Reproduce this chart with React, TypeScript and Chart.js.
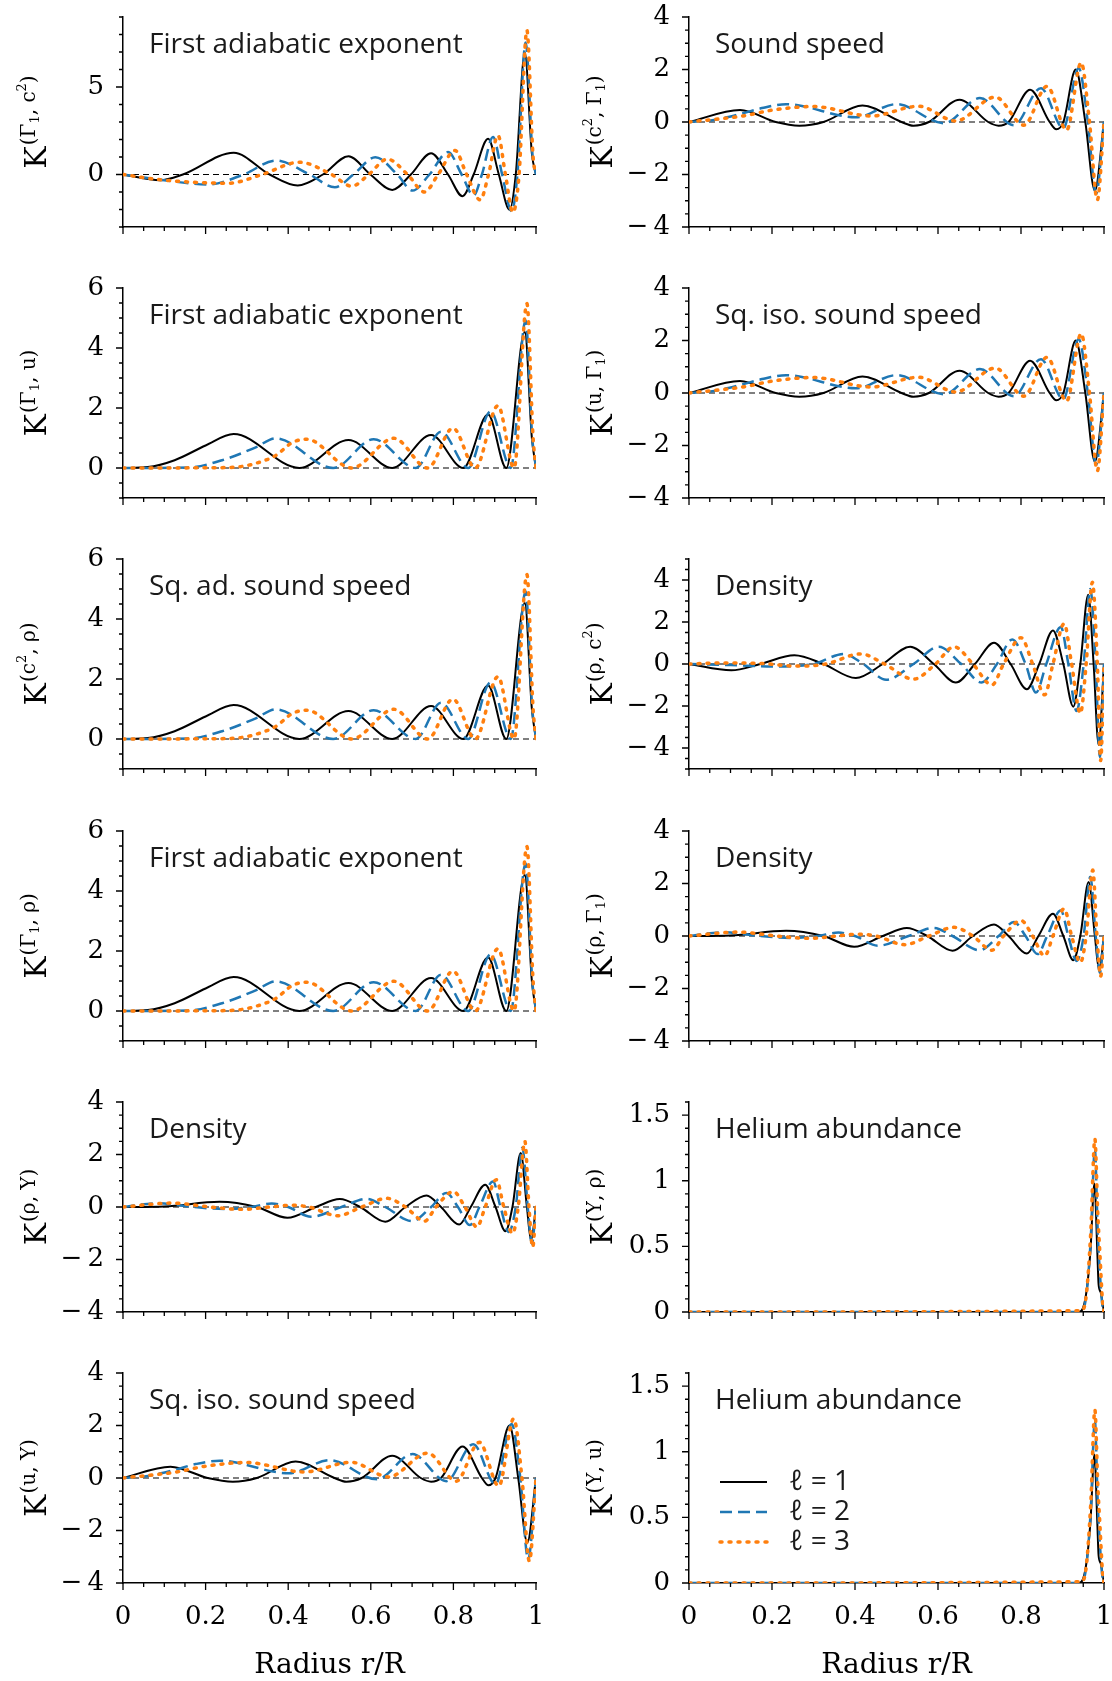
import React, { useEffect, useRef } from "react";
import { Chart, registerables } from "chart.js";

Chart.register(...registerables);

type Pt = [number, number];

// ---------------- data (r/R, K) ----------------
// K^(Γ1, c²)
const GC2_L1: Pt[] = [[0,0],[0.09,-0.33],[0.145,0],[0.268,1.24],[0.355,0],[0.423,-0.63],[0.484,0],[0.546,1.05],[0.599,0],[0.652,-0.88],[0.697,0],[0.746,1.22],[0.787,0],[0.822,-1.24],[0.849,0],[0.884,2.04],[0.91,0],[0.936,-2.02],[0.951,0],[0.973,6.95],[0.99,1.2],[1,0]];
const GC2_L2: Pt[] = [[0,0],[0.09,-0.3],[0.206,-0.57],[0.292,0],[0.37,0.8],[0.452,0],[0.513,-0.73],[0.558,0],[0.611,0.99],[0.664,0],[0.701,-0.92],[0.742,0],[0.787,1.28],[0.82,0],[0.849,-1.2],[0.869,0],[0.896,2.14],[0.918,0],[0.941,-2.1],[0.955,0],[0.975,7.55],[0.992,1.0],[1,0]];
const GC2_L3: Pt[] = [[0,0],[0.09,-0.3],[0.255,-0.5],[0.337,0],[0.427,0.7],[0.505,0],[0.554,-0.67],[0.595,0],[0.64,0.88],[0.689,0],[0.73,-1.0],[0.763,0],[0.804,1.37],[0.832,0],[0.865,-1.45],[0.885,0],[0.908,2.23],[0.926,0],[0.944,-2.16],[0.959,0],[0.978,8.24],[0.993,1.0],[1,0]];

// K^(Γ1, u), K^(c², ρ), K^(Γ1, ρ)
const GU_L1: Pt[] = [[0,0],[0.06,0.03],[0.125,0.26],[0.2,0.75],[0.268,1.13],[0.427,0],[0.546,0.93],[0.652,0],[0.746,1.1],[0.824,0],[0.884,1.78],[0.928,0],[0.973,4.53],[0.99,1.0],[1,0]];
const GU_L2: Pt[] = [[0,0],[0.16,0.02],[0.24,0.26],[0.32,0.68],[0.37,0.99],[0.509,0],[0.607,0.96],[0.709,0],[0.77,1.21],[0.836,0],[0.89,1.89],[0.939,0],[0.975,4.92],[0.991,1.0],[1,0]];
const GU_L3: Pt[] = [[0,0],[0.22,0.01],[0.28,0.04],[0.32,0.15],[0.37,0.42],[0.41,0.85],[0.445,0.96],[0.554,0],[0.656,0.99],[0.738,0],[0.799,1.33],[0.853,0],[0.908,2.08],[0.947,0],[0.978,5.48],[0.993,1.0],[1,0]];

// K^(c², Γ1), K^(u, Γ1)
const C2G_L1: Pt[] = [[0,0],[0.123,0.46],[0.209,0],[0.266,-0.14],[0.324,0],[0.418,0.63],[0.512,0],[0.541,-0.14],[0.578,0],[0.652,0.85],[0.721,0],[0.746,-0.14],[0.77,0],[0.822,1.23],[0.869,0],[0.885,-0.28],[0.902,0],[0.932,2.0],[0.955,0],[0.978,-2.62],[1,0]];
const C2G_L2: Pt[] = [[0,0],[0.06,0.08],[0.123,0.3],[0.176,0.53],[0.234,0.68],[0.402,0.18],[0.5,0.68],[0.615,-0.05],[0.701,0.91],[0.783,-0.12],[0.848,1.29],[0.902,-0.24],[0.939,2.06],[0.961,0],[0.981,-2.74],[1,0]];
const C2G_L3: Pt[] = [[0,0],[0.13,0.23],[0.2,0.45],[0.299,0.59],[0.439,0.23],[0.553,0.6],[0.643,0.04],[0.738,0.95],[0.807,-0.12],[0.863,1.36],[0.91,-0.31],[0.945,2.26],[0.965,0],[0.984,-2.97],[1,0]];

// K^(u, Y)
const UY_L1: Pt[] = [[0,0],[0.115,0.43],[0.205,0],[0.266,-0.14],[0.324,0],[0.418,0.63],[0.512,0],[0.541,-0.14],[0.578,0],[0.652,0.85],[0.721,0],[0.746,-0.14],[0.77,0],[0.822,1.2],[0.869,0],[0.885,-0.28],[0.902,0],[0.936,2.0],[0.957,0],[0.979,-2.46],[1,0]];
const UY_L2: Pt[] = [[0,0],[0.06,0.08],[0.123,0.3],[0.176,0.53],[0.234,0.66],[0.402,0.18],[0.5,0.68],[0.615,-0.05],[0.701,0.91],[0.783,-0.12],[0.848,1.29],[0.902,-0.24],[0.941,2.06],[0.962,0],[0.981,-3.1],[1,0]];
const UY_L3: Pt[] = [[0,0],[0.13,0.23],[0.2,0.45],[0.299,0.59],[0.439,0.23],[0.553,0.6],[0.643,0.04],[0.738,0.95],[0.807,-0.12],[0.863,1.36],[0.91,-0.31],[0.946,2.26],[0.966,0],[0.984,-3.17],[1,0]];

// K^(ρ, c²)
const RC2_L1: Pt[] = [[0,0],[0.102,-0.3],[0.172,0],[0.254,0.42],[0.324,0],[0.402,-0.67],[0.467,0],[0.533,0.82],[0.59,0],[0.643,-0.88],[0.689,0],[0.735,1.01],[0.775,0],[0.814,-1.2],[0.844,0],[0.877,1.6],[0.902,0],[0.926,-2.03],[0.943,0],[0.962,3.3],[0.975,0],[0.987,-3.85],[1,0]];
const RC2_L2: Pt[] = [[0,0],[0.1,-0.05],[0.2,-0.12],[0.3,0],[0.373,0.48],[0.42,0],[0.475,-0.75],[0.541,0],[0.602,0.82],[0.656,0],[0.705,-0.88],[0.742,0],[0.779,1.17],[0.811,0],[0.836,-1.36],[0.861,0],[0.896,1.76],[0.914,0],[0.934,-2.24],[0.951,0],[0.967,3.57],[0.98,0],[0.99,-4.43],[1,0]];
const RC2_L3: Pt[] = [[0,0],[0.08,0.05],[0.17,0.03],[0.26,-0.1],[0.33,0],[0.414,0.48],[0.471,0],[0.541,-0.72],[0.594,0],[0.639,0.82],[0.684,0],[0.73,-1.0],[0.758,0],[0.8,1.25],[0.828,0],[0.857,-1.47],[0.877,0],[0.904,1.92],[0.922,0],[0.943,-2.35],[0.957,0],[0.972,3.89],[0.984,0],[0.992,-4.6],[1,0]];

// K^(ρ, Γ1), K^(ρ, Y)
const RG_L1: Pt[] = [[0,0],[0.1,0.02],[0.234,0.2],[0.324,0],[0.398,-0.41],[0.467,0],[0.525,0.3],[0.574,0],[0.635,-0.56],[0.684,0],[0.735,0.44],[0.77,0],[0.814,-0.67],[0.842,0],[0.877,0.85],[0.902,0],[0.926,-0.92],[0.943,0],[0.963,2.06],[0.978,0],[0.988,-1.27],[1,0]];
const RG_L2: Pt[] = [[0,0],[0.08,0.14],[0.17,0],[0.25,-0.08],[0.31,0],[0.36,0.13],[0.4,0],[0.455,-0.37],[0.529,0],[0.59,0.31],[0.635,0],[0.7,-0.54],[0.746,0],[0.783,0.53],[0.811,0],[0.84,-0.69],[0.863,0],[0.896,0.97],[0.914,0],[0.934,-0.95],[0.951,0],[0.967,2.26],[0.98,0],[0.99,-1.4],[1,0]];
const RG_L3: Pt[] = [[0,0],[0.12,0.15],[0.21,0],[0.29,-0.09],[0.355,0],[0.41,0.07],[0.45,0],[0.52,-0.33],[0.578,0],[0.639,0.33],[0.684,0],[0.73,-0.54],[0.758,0],[0.8,0.59],[0.828,0],[0.857,-0.76],[0.877,0],[0.904,1.04],[0.922,0],[0.943,-1.01],[0.957,0],[0.973,2.51],[0.983,0],[0.992,-1.53],[1,0]];

// K^(Y, ρ), K^(Y, u)
const YR_L1: Pt[] = [[0,0],[0.94,0],[0.955,0.1],[0.967,0.45],[0.977,0.98],[0.984,0.45],[0.987,0.21],[0.992,0.15],[1,0]];
const YR_L2: Pt[] = [[0,0],[0.945,0],[0.957,0.12],[0.968,0.55],[0.978,1.24],[0.985,0.6],[0.99,0.3],[0.996,0.05],[1,0]];
const YR_L3: Pt[] = [[0,0],[0.945,0.01],[0.957,0.12],[0.968,0.6],[0.978,1.32],[0.985,0.75],[0.99,0.45],[0.996,0.1],[1,0]];

// tick labels
const X_TICKS = [0, 0.2, 0.4, 0.6, 0.8, 1];
const Y_TICKS_GC2 = [0, 5];
const Y_TICKS_POS = [0, 2, 4, 6];
const Y_TICKS_SYM = [-4, -2, 0, 2, 4];
const Y_TICKS_HE = [0, 0.5, 1, 1.5];
const LEGEND_LABELS = ["ℓ = 1", "ℓ = 2", "ℓ = 3"];

// ---------------- styles / layout ----------------
const SERIF = '"DejaVu Serif", serif';
const SANS = '"Open Sans", "Noto Sans", sans-serif';
const LINE_STYLES = [
  { color: "#000000", width: 2, dash: [] as number[], cap: "butt" as CanvasLineCap },
  { color: "#1f77b4", width: 2.5, dash: [12, 6], cap: "butt" as CanvasLineCap },
  { color: "#ff7f0e", width: 3.5, dash: [2, 7], cap: "round" as CanvasLineCap },
];
const ROW_TOPS = [0, 271, 542, 814, 1085, 1356];
const COL_W = 556;
const PLOT_TOP = 17;
const PLOT_H = 210;

type Cfg = {
  row: number; col: number; title: string; ylab: string;
  ymin: number; ymax: number; minor: number; yticks: number[];
  series: Pt[][]; zero: boolean; legend?: boolean;
};

const PANELS: Cfg[] = [
  { row: 0, col: 0, title: "First adiabatic exponent", ylab: "(Γ_1, c^2)", ymin: -3, ymax: 9, minor: 1, yticks: Y_TICKS_GC2, series: [GC2_L1, GC2_L2, GC2_L3], zero: true },
  { row: 0, col: 1, title: "Sound speed", ylab: "(c^2, Γ_1)", ymin: -4, ymax: 4, minor: 0.5, yticks: Y_TICKS_SYM, series: [C2G_L1, C2G_L2, C2G_L3], zero: true },
  { row: 1, col: 0, title: "First adiabatic exponent", ylab: "(Γ_1, u)", ymin: -1, ymax: 6, minor: 0.5, yticks: Y_TICKS_POS, series: [GU_L1, GU_L2, GU_L3], zero: true },
  { row: 1, col: 1, title: "Sq. iso. sound speed", ylab: "(u, Γ_1)", ymin: -4, ymax: 4, minor: 0.5, yticks: Y_TICKS_SYM, series: [C2G_L1, C2G_L2, C2G_L3], zero: true },
  { row: 2, col: 0, title: "Sq. ad. sound speed", ylab: "(c^2, ρ)", ymin: -1, ymax: 6, minor: 0.5, yticks: Y_TICKS_POS, series: [GU_L1, GU_L2, GU_L3], zero: true },
  { row: 2, col: 1, title: "Density", ylab: "(ρ, c^2)", ymin: -5, ymax: 5, minor: 0.5, yticks: Y_TICKS_SYM, series: [RC2_L1, RC2_L2, RC2_L3], zero: true },
  { row: 3, col: 0, title: "First adiabatic exponent", ylab: "(Γ_1, ρ)", ymin: -1, ymax: 6, minor: 0.5, yticks: Y_TICKS_POS, series: [GU_L1, GU_L2, GU_L3], zero: true },
  { row: 3, col: 1, title: "Density", ylab: "(ρ, Γ_1)", ymin: -4, ymax: 4, minor: 0.5, yticks: Y_TICKS_SYM, series: [RG_L1, RG_L2, RG_L3], zero: true },
  { row: 4, col: 0, title: "Density", ylab: "(ρ, Y)", ymin: -4, ymax: 4, minor: 0.5, yticks: Y_TICKS_SYM, series: [RG_L1, RG_L2, RG_L3], zero: true },
  { row: 4, col: 1, title: "Helium abundance", ylab: "(Y, ρ)", ymin: 0, ymax: 1.6, minor: 0.1, yticks: Y_TICKS_HE, series: [YR_L1, YR_L2, YR_L3], zero: false },
  { row: 5, col: 0, title: "Sq. iso. sound speed", ylab: "(u, Y)", ymin: -4, ymax: 4, minor: 0.5, yticks: Y_TICKS_SYM, series: [UY_L1, UY_L2, UY_L3], zero: true },
  { row: 5, col: 1, title: "Helium abundance", ylab: "(Y, u)", ymin: 0, ymax: 1.6, minor: 0.1, yticks: Y_TICKS_HE, series: [YR_L1, YR_L2, YR_L3], zero: false, legend: true },
];

type Seg = { t: string; size: number; rise: number; w?: number };
function parseLabel(s: string): Seg[] {
  const out: Seg[] = [];
  for (let i = 0; i < s.length; i++) {
    const ch = s[i];
    if (ch === "_" && i + 1 < s.length) { out.push({ t: s[i + 1], size: 13, rise: 7 }); i++; }
    else if (ch === "^" && i + 1 < s.length) { out.push({ t: s[i + 1], size: 13, rise: 20 }); i++; }
    else out.push({ t: ch, size: 20, rise: 11 });
  }
  return out;
}

function drawYLabel(ctx: CanvasRenderingContext2D, spec: string, bx: number, cy: number) {
  const segs = parseLabel(spec);
  ctx.save();
  ctx.translate(bx, cy);
  ctx.rotate(-Math.PI / 2);
  ctx.fillStyle = "#000";
  ctx.textAlign = "left";
  ctx.textBaseline = "alphabetic";
  ctx.font = `30px ${SERIF}`;
  const kw = ctx.measureText("K").width;
  let total = kw + 1;
  segs.forEach((sg) => { ctx.font = `${sg.size}px ${SERIF}`; sg.w = ctx.measureText(sg.t).width; total += sg.w; });
  let x = -total / 2;
  ctx.font = `30px ${SERIF}`;
  ctx.fillText("K", x, 0);
  x += kw + 1;
  segs.forEach((sg) => { ctx.font = `${sg.size}px ${SERIF}`; ctx.fillText(sg.t, x, -sg.rise); x += sg.w || 0; });
  ctx.restore();
}

function makePlugin(cfg: Cfg) {
  return {
    id: "panelDeco",
    beforeDatasetsDraw(chart: any) {
      if (!cfg.zero) return;
      const { ctx, chartArea: a } = chart;
      const py = chart.scales.y.getPixelForValue(0);
      ctx.save();
      ctx.beginPath();
      ctx.setLineDash([6, 4]);
      ctx.lineWidth = 1.2;
      ctx.strokeStyle = "#000";
      ctx.moveTo(a.left, py);
      ctx.lineTo(a.right, py);
      ctx.stroke();
      ctx.restore();
    },
    afterDraw(chart: any) {
      const { ctx, chartArea: a } = chart;
      const xs = chart.scales.x;
      const ys = chart.scales.y;
      ctx.save();
      ctx.strokeStyle = "#000";
      ctx.lineWidth = 1.3;
      ctx.setLineDash([]);
      ctx.beginPath();
      for (let i = 0; i <= 20; i++) {
        const v = i * 0.05;
        const px = xs.getPixelForValue(v);
        const len = i % 4 === 0 ? 7 : 4;
        ctx.moveTo(px, a.bottom);
        ctx.lineTo(px, a.bottom + len);
      }
      const i0 = Math.ceil(cfg.ymin / cfg.minor - 1e-9);
      const i1 = Math.floor(cfg.ymax / cfg.minor + 1e-9);
      for (let i = i0; i <= i1; i++) {
        const v = i * cfg.minor;
        const major = cfg.yticks.some((t) => Math.abs(t - v) < 1e-6);
        const py = ys.getPixelForValue(v);
        ctx.moveTo(a.left, py);
        ctx.lineTo(a.left - (major ? 7 : 4), py);
      }
      ctx.stroke();
      ctx.restore();

      // panel annotation
      ctx.save();
      ctx.fillStyle = "#1a1a1a";
      ctx.font = `28px ${SANS}`;
      ctx.textAlign = "left";
      ctx.textBaseline = "middle";
      ctx.fillText(cfg.title, a.left + 26, a.top + 28.5);
      ctx.restore();

      // y label
      drawYLabel(ctx, cfg.ylab, a.left - 77, (a.top + a.bottom) / 2);

      if (cfg.legend) {
        ctx.save();
        LEGEND_LABELS.forEach((lab, i) => {
          const st = LINE_STYLES[i];
          const y = a.top + 109 + i * 30;
          ctx.beginPath();
          ctx.strokeStyle = st.color;
          ctx.lineWidth = st.width;
          ctx.setLineDash(st.dash);
          ctx.lineCap = st.cap;
          ctx.moveTo(a.left + 31, y);
          ctx.lineTo(a.left + 78, y);
          ctx.stroke();
          ctx.setLineDash([]);
          ctx.fillStyle = "#1a1a1a";
          ctx.font = `28px ${SANS}`;
          ctx.textAlign = "left";
          ctx.textBaseline = "middle";
          ctx.fillText(lab, a.left + 100, y);
        });
        ctx.restore();
      }
    },
  };
}

function fmtY(v: number): string {
  if (v < 0) return "\u2212\u2009" + String(Math.abs(v));
  return String(v);
}

function Panel({ cfg }: { cfg: Cfg }) {
  const ref = useRef<HTMLCanvasElement | null>(null);
  const top = ROW_TOPS[cfg.row];
  const height = cfg.row === 5 ? 1681 - top : ROW_TOPS[cfg.row + 1] - top;
  const plotLeft = cfg.col === 0 ? 123 : 133;
  const padRight = cfg.col === 0 ? 20 : 8;
  const xH = height - PLOT_TOP - PLOT_H;
  const lastRow = cfg.row === 5;

  useEffect(() => {
    const canvas = ref.current;
    if (!canvas) return;
    const chart = new Chart(canvas, {
      type: "line",
      data: {
        datasets: cfg.series.map((s, i) => ({
          label: LEGEND_LABELS[i],
          data: s.map(([x, y]) => ({ x, y })),
          borderColor: LINE_STYLES[i].color,
          borderWidth: LINE_STYLES[i].width,
          borderDash: LINE_STYLES[i].dash,
          borderCapStyle: LINE_STYLES[i].cap,
          borderJoinStyle: "round",
          pointRadius: 0,
          fill: false,
          cubicInterpolationMode: "monotone",
          order: 3 - i,
        })),
      },
      options: {
        animation: false,
        responsive: false,
        maintainAspectRatio: false,
        devicePixelRatio: 1,
        events: [],
        layout: { padding: { left: 0, right: padRight, top: PLOT_TOP, bottom: 0 } },
        plugins: { legend: { display: false }, tooltip: { enabled: false } },
        elements: { point: { radius: 0 } },
        scales: {
          x: {
            type: "linear",
            min: 0,
            max: 1,
            grid: { display: false },
            border: { display: true, color: "#000", width: 1.5 },
            ticks: {
              display: lastRow,
              color: "#000",
              font: { family: SERIF, size: 26, lineHeight: 1.2 },
              padding: 11,
              maxRotation: 0,
              autoSkip: false,
              callback: (v: any) => String(v),
            },
            title: {
              display: lastRow,
              text: "Radius r/R",
              color: "#000",
              font: { family: SERIF, size: 28, lineHeight: 1.0 },
              padding: { top: 0, bottom: 1.5 },
            },
            afterBuildTicks: (scale: any) => { scale.ticks = X_TICKS.map((v) => ({ value: v })); },
            afterFit: (scale: any) => { scale.height = xH; scale.paddingLeft = 0; scale.paddingRight = 0; },
          },
          y: {
            type: "linear",
            min: cfg.ymin,
            max: cfg.ymax,
            grid: { display: false },
            border: { display: true, color: "#000", width: 1.5 },
            ticks: {
              color: "#000",
              font: { family: SERIF, size: 26, lineHeight: 1.0 },
              padding: 11,
              autoSkip: false,
              callback: (v: any) => fmtY(Number(v)),
            },
            afterBuildTicks: (scale: any) => { scale.ticks = cfg.yticks.map((v) => ({ value: v })); },
            afterFit: (scale: any) => { scale.width = plotLeft; scale.paddingTop = 0; scale.paddingBottom = 0; },
          },
        },
      } as any,
      plugins: [makePlugin(cfg)],
    });
    return () => chart.destroy();
  }, []);

  return (
    <canvas
      ref={ref}
      width={COL_W}
      height={height}
      style={{ position: "absolute", left: cfg.col * COL_W, top, width: COL_W, height }}
    />
  );
}

export default function App() {
  return (
    <div style={{ position: "absolute", left: 0, top: 0, width: 1112, height: 1681, background: "#ffffff", overflow: "hidden" }}>
      {PANELS.map((p, i) => (
        <Panel key={i} cfg={p} />
      ))}
    </div>
  );
}
